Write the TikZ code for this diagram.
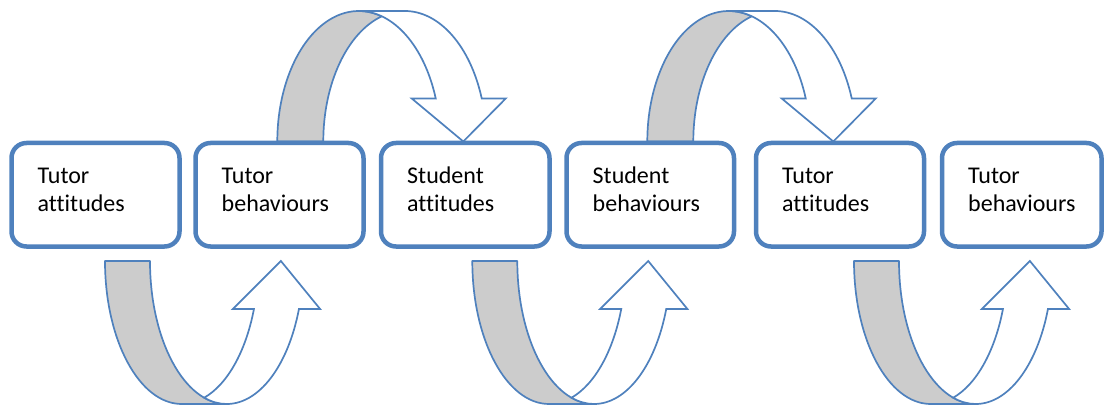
\documentclass[tikz,border=0pt]{standalone}
\usepackage{fontspec}
\setmainfont{Carlito}[Ligatures=NoCommon]
\usetikzlibrary{calc}
\definecolor{accblue}{RGB}{79,129,189}
\definecolor{backgray}{RGB}{204,204,204}
\tikzset{
  backpart/.style={fill=backgray, draw=accblue, line width=1.7pt, line join=round},
  frontpart/.style={fill=white, draw=accblue, line width=1.7pt, line join=miter},
  cbox/.style={draw=accblue, line width=4.5pt, rounded corners=15pt, fill=white,
    minimum height=103.5pt, inner sep=0pt, outer sep=0pt, anchor=north west},
  lbl/.style={anchor=base west, align=left, inner sep=0pt, text=black,
    font=\fontsize{24}{28.4}\selectfont}
}
% curved down arrow (back arm gray, front arm with head)
\newcommand\CurvDownArrow[1]{%
  \begingroup
  \pgfmathsetmacro\cxo{#1}%
  \def\cwR{81.5}\def\chh{130.5}\def\cth{46}\def\cah{43}\def\caw{94}\def\cYc{263.5}%
  \pgfmathsetmacro\ctJ{acos(\cth/(2*\cwR))}%
  \pgfmathsetmacro\ctJB{180-\ctJ}%
  \pgfmathsetmacro\cta{asin(\cah/\chh)}%
  \pgfmathsetmacro\ccA{\cxo+\cwR}%
  \pgfmathsetmacro\ccB{\cxo+\cwR+\cth}%
  \pgfmathsetmacro\cxv{\ccA+\cwR*cos(\cta)}%
  \pgfmathsetmacro\cxs{\cxv+\cth}%
  \pgfmathsetmacro\cdh{(\caw-\cth)/2}%
  \pgfmathsetmacro\cxiv{\cxv-\cdh}%
  \pgfmathsetmacro\cxviii{\cxs+\cdh}%
  \pgfmathsetmacro\cxvi{\cxo+2*\cwR+\cth/2}%
  \pgfmathsetmacro\cyb{\cYc+\cah}%
  \pgfmathsetmacro\cyt{\cYc+\chh}%
  \path[backpart] (\cxo,\cYc)
     arc[start angle=180, end angle=\ctJ, x radius=\cwR pt, y radius=\chh pt]
     arc[start angle=\ctJB, end angle=180, x radius=\cwR pt, y radius=\chh pt] -- cycle;
  \path[frontpart] (\ccA,\cyt) -- (\ccB,\cyt)
     arc[start angle=90, end angle=\cta, x radius=\cwR pt, y radius=\chh pt]
     -- (\cxviii,\cyb) -- (\cxvi,\cYc) -- (\cxiv,\cyb) -- (\cxv,\cyb)
     arc[start angle=\cta, end angle=90, x radius=\cwR pt, y radius=\chh pt] -- cycle;
  \endgroup}
% curved up arrow
\newcommand\CurvUpArrow[1]{%
  \begingroup
  \pgfmathsetmacro\cxo{#1}%
  \def\cwR{76.7}\def\chh{143}\def\cth{45}\def\cah{48}\def\caw{87.3}\def\cYt{144}%
  \pgfmathsetmacro\ctJ{acos(\cth/(2*\cwR))}%
  \pgfmathsetmacro\cJA{360-\ctJ}%
  \pgfmathsetmacro\cJB{180+\ctJ}%
  \pgfmathsetmacro\cta{asin(\cah/\chh)}%
  \pgfmathsetmacro\caA{360-\cta}%
  \pgfmathsetmacro\ccA{\cxo+\cwR}%
  \pgfmathsetmacro\ccB{\cxo+\cwR+\cth}%
  \pgfmathsetmacro\cxv{\ccA+\cwR*cos(\cta)}%
  \pgfmathsetmacro\cxs{\cxv+\cth}%
  \pgfmathsetmacro\cdh{(\caw-\cth)/2}%
  \pgfmathsetmacro\cxiv{\cxv-\cdh}%
  \pgfmathsetmacro\cxviii{\cxs+\cdh}%
  \pgfmathsetmacro\cxvi{\cxo+2*\cwR+\cth/2}%
  \pgfmathsetmacro\cyb{\cYt-\cah}%
  \pgfmathsetmacro\cybot{\cYt-\chh}%
  \path[backpart] (\cxo,\cYt)
     arc[start angle=180, end angle=270, x radius=\cwR pt, y radius=\chh pt]
     -- (\ccB,\cybot)
     arc[start angle=270, end angle=180, x radius=\cwR pt, y radius=\chh pt] -- cycle;
  \path[frontpart] (\ccB,\cybot)
     arc[start angle=270, end angle=\cJB, x radius=\cwR pt, y radius=\chh pt]
     arc[start angle=\cJA, end angle=\caA, x radius=\cwR pt, y radius=\chh pt]
     -- (\cxiv,\cyb) -- (\cxvi,\cYt) -- (\cxviii,\cyb) -- (\cxs,\cyb)
     arc[start angle=\caA, end angle=270, x radius=\cwR pt, y radius=\chh pt] -- cycle;
  \endgroup}
\begin{document}
\begin{tikzpicture}[x=1pt, y=1pt]
\useasboundingbox (0,0) rectangle (1105,405);
% curved arrows
\CurvDownArrow{277.3}
\CurvDownArrow{647.3}
\CurvUpArrow{105}
\CurvUpArrow{472.3}
\CurvUpArrow{854}
% boxes
\node[cbox, minimum width=168pt]   (b1) at (11.5,262) {};
\node[cbox, minimum width=168pt]   (b2) at (195.5,262) {};
\node[cbox, minimum width=168.5pt] (b3) at (381,262) {};
\node[cbox, minimum width=167.5pt] (b4) at (566.5,262) {};
\node[cbox, minimum width=168pt]   (b5) at (756,262) {};
\node[cbox, minimum width=159.5pt] (b6) at (942,262) {};
% labels (anchor base = baseline of the last line)
\node[lbl] (l1) at ($(b1.north west)+(26,-68.4)$) {Tutor\\attitudes};
\node[lbl] (l2) at ($(b2.north west)+(26,-68.4)$) {Tutor\\behaviours};
\node[lbl] (l3) at ($(b3.north west)+(26,-68.4)$) {Student\\attitudes};
\node[lbl] (l4) at ($(b4.north west)+(26,-68.4)$) {Student\\behaviours};
\node[lbl] (l5) at ($(b5.north west)+(26,-68.4)$) {Tutor\\attitudes};
\node[lbl] (l6) at ($(b6.north west)+(26,-68.4)$) {Tutor\\behaviours};
\end{tikzpicture}
\end{document}
